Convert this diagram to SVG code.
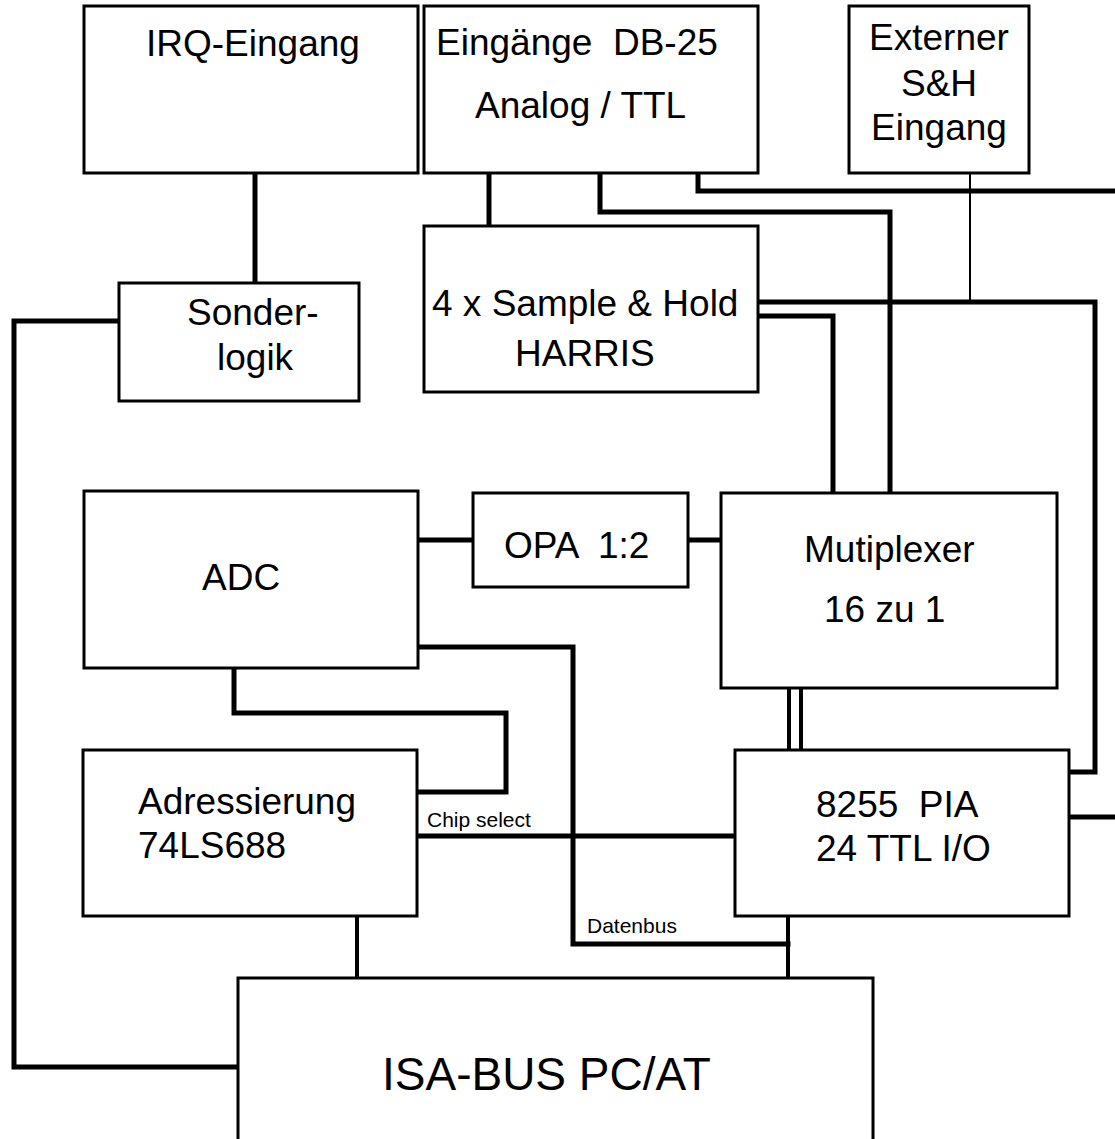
<svg xmlns="http://www.w3.org/2000/svg" width="1115" height="1139" viewBox="0 0 1115 1139">
<style>
.box{fill:#fff;stroke:#000;stroke-width:3}
.t{font-family:"Liberation Sans",Arial,sans-serif;font-size:37px;fill:#000}
.s{font-family:"Liberation Sans",Arial,sans-serif;font-size:21px;fill:#000}
.big{font-family:"Liberation Sans",Arial,sans-serif;font-size:46px;fill:#000}
.w{fill:none;stroke:#000;stroke-width:5;stroke-linejoin:miter;stroke-linecap:square}
.m{fill:none;stroke:#000;stroke-width:4}
.th{fill:none;stroke:#000;stroke-width:2}
</style>
<rect width="1115" height="1139" fill="#fff"/>
<g id="connectors">
<path class="w" d="M255 173V283"/>
<path class="w" d="M489 173V226"/>
<path class="w" d="M600 173V212H890V493"/>
<path class="w" d="M698 173V191H1115"/>
<path class="th" d="M970 173V302"/>
<path class="w" d="M758 302H1095V772H1069"/>
<path class="w" d="M758 316H833V493"/>
<path class="w" d="M418 540H473"/>
<path class="w" d="M688 540H721"/>
<path class="w" d="M418 647H573V944H788"/>
<path class="w" d="M234 668V713H506V792H417"/>
<path class="w" d="M417 836H735"/>
<path class="m" d="M789 688V750M801 688V750"/>
<path class="m" d="M788 916V978"/>
<path class="m" d="M357 916V978"/>
<path class="w" d="M1069 817H1115"/>
<path class="w" d="M119 321H14V1067H238"/>
</g>
<g id="irq"><rect class="box" x="84" y="6" width="334" height="167"/><text class="t" x="146" y="56">IRQ-Eingang</text></g>
<g id="eingaenge"><rect class="box" x="424" y="6" width="334" height="167"/><text class="t" x="436" y="55" xml:space="preserve">Eingänge  DB-25</text><text class="t" x="475" y="118">Analog / TTL</text></g>
<g id="externer"><rect class="box" x="849" y="6" width="180" height="167"/><text class="t" x="939" y="50" text-anchor="middle">Externer</text><text class="t" x="939" y="96" text-anchor="middle">S&amp;H</text><text class="t" x="939" y="140" text-anchor="middle">Eingang</text></g>
<g id="sonderlogik"><rect class="box" x="119" y="283" width="240" height="118"/><text class="t" x="187" y="325">Sonder-</text><text class="t" x="217" y="370">logik</text></g>
<g id="sampleandhold"><rect class="box" x="424" y="226" width="334" height="166"/><text class="t" x="432" y="316">4 x Sample &amp; Hold</text><text class="t" x="515" y="366">HARRIS</text></g>
<g id="adc"><rect class="box" x="84" y="491" width="334" height="177"/><text class="t" x="202" y="590">ADC</text></g>
<g id="opa"><rect class="box" x="473" y="493" width="215" height="94"/><text class="t" x="504" y="558" xml:space="preserve">OPA  1:2</text></g>
<g id="multiplexer"><rect class="box" x="721" y="493" width="336" height="195"/><text class="t" x="804" y="562">Mutiplexer</text><text class="t" x="824" y="622">16 zu 1</text></g>
<g id="adressierung"><rect class="box" x="83" y="750" width="334" height="166"/><text class="t" x="138" y="814">Adressierung</text><text class="t" x="138" y="858">74LS688</text></g>
<g id="pia"><rect class="box" x="735" y="750" width="334" height="166"/><text class="t" x="816" y="817" xml:space="preserve">8255  PIA</text><text class="t" x="816" y="861">24 TTL I/O</text></g>
<g id="isabus"><rect class="box" x="238" y="978" width="635" height="180"/><text class="big" x="382" y="1090">ISA-BUS PC/AT</text></g>
<g id="labels"><text class="s" x="427" y="827">Chip select</text><text class="s" x="587" y="933">Datenbus</text></g>
</svg>
